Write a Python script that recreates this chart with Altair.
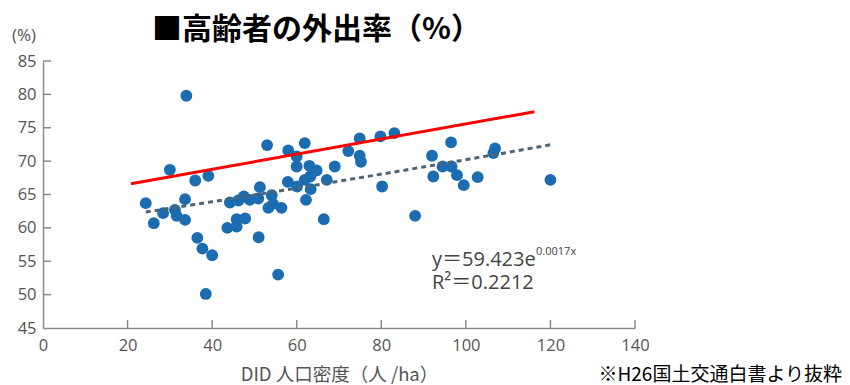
import altair as alt
import pandas as pd

# ---- data ----
density = [24.3, 26.2, 28.4, 30.0, 31.2, 31.6, 33.6, 33.6, 33.9, 36.0,
           36.5, 37.7, 38.5, 39.1, 40.0, 43.6, 44.2, 45.8, 45.8, 46.2,
           47.5, 47.8, 48.9, 50.9, 51.0, 51.3, 53.0, 53.3, 54.1, 54.4,
           55.6, 56.4, 57.9, 58.0, 60.0, 60.0, 60.1, 61.9, 61.9, 62.2,
           63.0, 63.2, 63.3, 64.7, 66.4, 67.1, 69.0, 72.2, 74.9, 74.9,
           75.2, 79.8, 80.2, 83.1, 88.0, 92.0, 92.3, 94.5, 96.5, 96.6,
           97.9, 99.5, 102.8, 106.5, 106.9, 120.0]
rate = [63.7, 60.7, 62.2, 68.7, 62.7, 61.8, 61.2, 64.3, 79.8, 67.1,
        58.5, 56.9, 50.1, 67.8, 55.9, 60.0, 63.8, 61.3, 60.2, 64.1,
        64.7, 61.4, 64.2, 64.4, 58.6, 66.1, 72.4, 63.0, 64.9, 63.6,
        53.0, 63.0, 66.9, 71.6, 70.7, 69.2, 66.2, 72.7, 67.2, 64.2,
        69.3, 67.7, 65.8, 68.6, 61.3, 67.2, 69.2, 71.5, 73.4, 70.8,
        69.9, 73.7, 66.2, 74.2, 61.8, 70.8, 67.7, 69.2, 72.8, 69.2,
        67.9, 66.4, 67.6, 71.2, 71.9, 67.2]

red_density = [20.8, 116.2]
red_rate = [66.6, 77.4]

x_ticks = [0, 20, 40, 60, 80, 100, 120, 140]
y_ticks = [45, 50, 55, 60, 65, 70, 75, 80, 85]

title_text = ["■高齢者の外出率（%）"]
unit_text = ["(%)"]
xtitle_text = "DID 人口密度（人 /ha）"
eq_text = ["y＝59.423e"]
eq_sup = ["0.0017x"]
r2_text = ["R²＝0.2212"]
note_text = ["※H26国土交通白書より抜粋"]

# ---- tables ----
pts = pd.DataFrame({"density": density, "rate": rate})
red = pd.DataFrame({"density": red_density, "rate": red_rate})
xt = pd.DataFrame({"density": x_ticks[1:]})
yt = pd.DataFrame({"rate": y_ticks[1:]})

FONT = "Open Sans, Noto Sans CJK JP"
JP = "Noto Sans CJK JP"
AXC = "#8a8a8a"
LBC = "#555555"

xscale = alt.Scale(domain=[0, 140], nice=False, zero=False)
yscale = alt.Scale(domain=[45, 85], nice=False, zero=False)

xaxis = alt.Axis(values=x_ticks, grid=False, ticks=False, tickSize=0,
                 labelPadding=9, labelFontSize=16.5, labelColor=LBC, labelFont=FONT,
                 labelFlush=False, labelOverlap=False,
                 domainColor=AXC, domainWidth=1.5,
                 title=xtitle_text, titleFont=JP, titleFontSize=18.5,
                 titleFontWeight="normal", titleColor=LBC,
                 titleBaseline="alphabetic", titleY=52)
yaxis = alt.Axis(values=y_ticks, grid=False, ticks=False, tickSize=0,
                 labelPadding=7, labelFontSize=16.5, labelColor=LBC, labelFont=FONT,
                 labelFlush=False, labelOverlap=False,
                 domainColor=AXC, domainWidth=1.5, title=None)

X = alt.X("density:Q", scale=xscale, axis=xaxis)
Y = alt.Y("rate:Q", scale=yscale, axis=yaxis)

base = alt.Chart(pts)

points = base.mark_circle(size=140, color="#1b6cb0", opacity=1).encode(x=X, y=Y)

trend = base.transform_regression("density", "rate", method="exp").mark_line(
    color="#4f6377", strokeDash=[5, 4], strokeWidth=3
).encode(x=X, y=Y)

redline = alt.Chart(red).mark_line(color="#ff0000", strokeWidth=3).encode(x=X, y=Y)

xtick_rules = alt.Chart(xt).mark_rule(color=AXC, strokeWidth=1.5).encode(
    x=X,
    y=alt.YDatum(45, scale=yscale, axis=yaxis),
    y2=alt.datum(46.2))
ytick_rules = alt.Chart(yt).mark_rule(color=AXC, strokeWidth=1.5).encode(
    y=Y,
    x=alt.XDatum(0, scale=xscale, axis=xaxis),
    x2=alt.datum(1.9))


def txt(items):
    return alt.Chart(pd.DataFrame({"t": items}))


title = txt(title_text).mark_text(
    font=JP, fontSize=30, fontWeight="bold", color="#000000",
    align="left", baseline="alphabetic").encode(
    text="t:N", x=alt.value(109), y=alt.value(-22))

unit = txt(unit_text).mark_text(
    font=FONT, fontSize=17, color=LBC, align="left", baseline="alphabetic").encode(
    text="t:N", x=alt.value(-31), y=alt.value(-20))

eq = txt(eq_text).mark_text(
    font=FONT, fontSize=20, color="#444444", align="left", baseline="alphabetic").encode(
    text="t:N", x=alt.XDatum(92.0, scale=xscale, axis=xaxis),
    y=alt.YDatum(54.3, scale=yscale, axis=yaxis))
eqs = txt(eq_sup).mark_text(
    font=FONT, fontSize=11, color="#444444", align="left", baseline="alphabetic").encode(
    text="t:N", x=alt.XDatum(116.6, scale=xscale, axis=xaxis),
    y=alt.YDatum(55.9, scale=yscale, axis=yaxis))
r2 = txt(r2_text).mark_text(
    font=FONT, fontSize=20, color="#444444", align="left", baseline="alphabetic").encode(
    text="t:N", x=alt.XDatum(92.0, scale=xscale, axis=xaxis),
    y=alt.YDatum(50.9, scale=yscale, axis=yaxis))

note = txt(note_text).mark_text(
    font=JP, fontSize=19, color="#000000", align="right", baseline="alphabetic").encode(
    text="t:N", x=alt.value(799), y=alt.value(320))

chart = alt.layer(
    points, trend, redline, xtick_rules, ytick_rules, eq, eqs, r2, title, unit, note
).properties(
    width=592, height=267,
    autosize=alt.AutoSizeParams(type="none"),
    padding={"left": 35, "top": 53, "right": 207, "bottom": 57},
).configure_view(stroke=None)

chart.save("out.html", embed_options={"renderer": "svg", "actions": False})
